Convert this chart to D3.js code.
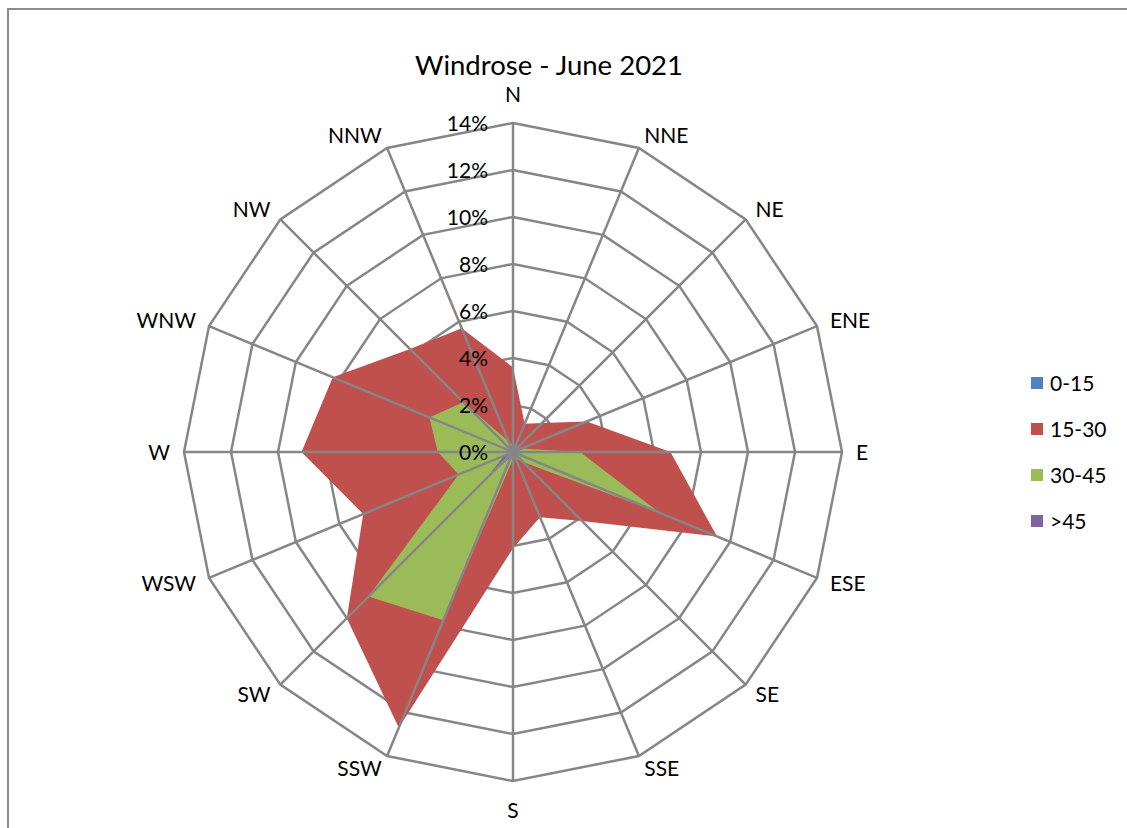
<!DOCTYPE html>
<html>
<head>
<meta charset="utf-8">
<script src="https://cdn.jsdelivr.net/npm/d3@7"></script>
<style>
  body { margin: 0; background: #fff; }
  svg { display: block; }
</style>
</head>
<body>
<svg id="chart" width="1127" height="828"></svg>
<script>
const directions = ['N', 'NNE', 'NE', 'ENE', 'E', 'ESE', 'SE', 'SSE', 'S', 'SSW', 'SW', 'WSW', 'W', 'WNW', 'NW', 'NNW'];
const seriesNames = ['0-15', '15-30', '30-45', '>45'];

// percent of time per direction
const speed0to15 = [0.1, 0.1, 0.1, 0.1, 0.2, 0.2, 0.1, 0.1, 0.1, 0.2, 0.2, 0.1, 0.2, 0.2, 0.1, 0.1];
const speed15to30 = [3.6, 1.3, 1.75, 3.4, 6.7, 9.4, 4.15, 3.0, 4.1, 12.7, 10.0, 6.9, 9.0, 8.3, 6.2, 5.7];
const speed30to45 = [0.3, 0.2, 0.2, 0.4, 2.85, 6.75, 0.6, 0.3, 0.3, 7.75, 8.7, 2.5, 3.2, 3.85, 3.0, 0.5];
const speedOver45 = [0.05, 0.05, 0.05, 0.05, 0.05, 0.05, 0.05, 0.05, 0.1, 0.2, 1.7, 0.4, 0.1, 0.05, 0.05, 0.05];

const tickValues = [0, 2, 4, 6, 8, 10, 12, 14];

const colorScheme = {
  '0-15': '#4F81BD',
  '15-30': '#C0504D',
  '30-45': '#9BBB59',
  '>45': '#8064A2'
};

const series = [speed0to15, speed15to30, speed30to45, speedOver45];

const svg = d3.select('#chart');
const cx = 513, cy = 452, R = 329;
const font = 'Lato, sans-serif';
const gridColor = '#868686';

// chart frame
svg.append('rect')
  .attr('x', 8).attr('y', 9)
  .attr('width', 1140).attr('height', 840)
  .attr('fill', 'none')
  .attr('stroke', '#8c8c8c')
  .attr('stroke-width', 2);

svg.append('text')
  .attr('x', 549).attr('y', 75)
  .attr('text-anchor', 'middle')
  .style('font-family', font)
  .style('font-size', '27.5px')
  .attr('fill', '#000')
  .text('Windrose - June 2021');

const r = d3.scaleLinear().domain([0, 14]).range([0, R]);
const angle = d3.scalePoint().domain(directions).range([0, 2 * Math.PI * 15 / 16]);

const g = svg.append('g').attr('transform', `translate(${cx},${cy})`);

// rings (behind the fills)
const ring = d3.lineRadial()
  .angle(d => angle(d))
  .curve(d3.curveLinearClosed);

g.selectAll('.ring')
  .data(tickValues.slice(1))
  .enter().append('path')
  .attr('class', 'ring')
  .attr('d', v => ring.radius(() => r(v))(directions))
  .attr('fill', 'none')
  .attr('stroke', gridColor)
  .attr('stroke-width', 2.5);

// filled series
const area = d3.lineRadial()
  .angle((d, i) => angle(directions[i]))
  .radius(d => r(d))
  .curve(d3.curveLinearClosed);

g.selectAll('.series')
  .data(series)
  .enter().append('path')
  .attr('class', 'series')
  .attr('d', d => area(d))
  .attr('fill', (d, i) => colorScheme[seriesNames[i]]);

// spokes (on top)
g.selectAll('.spoke')
  .data(directions)
  .enter().append('line')
  .attr('class', 'spoke')
  .attr('x1', 0).attr('y1', 0)
  .attr('x2', d => r(14) * Math.sin(angle(d)))
  .attr('y2', d => -r(14) * Math.cos(angle(d)))
  .attr('stroke', gridColor)
  .attr('stroke-width', 2.5);

// tick labels
g.selectAll('.tick')
  .data(tickValues)
  .enter().append('text')
  .attr('class', 'tick')
  .attr('x', -25)
  .attr('y', d => -r(d))
  .attr('dy', '0.36em')
  .attr('text-anchor', 'end')
  .style('font-family', font)
  .style('font-size', '21px')
  .attr('fill', '#000')
  .text(d => d + '%');

// direction labels: anchor on a circle, then shift sideways by half the width
const labelR = 343;
g.selectAll('.dir')
  .data(directions)
  .enter().append('text')
  .attr('class', 'dir')
  .each(function (d) {
    const a = angle(d);
    const s = Math.sin(a), c = Math.cos(a);
    const t = d3.select(this)
      .style('font-family', font)
      .style('font-size', '21px')
      .attr('fill', '#000')
      .attr('text-anchor', 'middle')
      .attr('dy', '0.36em')
      .text(d);
    const w = this.getComputedTextLength();
    let x = labelR * s, y = -labelR * c;
    if (Math.abs(s) > 1e-6) x += Math.sign(s) * w / 2;
    else y -= Math.sign(c) * 15;
    t.attr('x', x).attr('y', y);
  });

// legend
const legend = svg.append('g').attr('transform', 'translate(1031,383)');
const items = legend.selectAll('g')
  .data(seriesNames)
  .enter().append('g')
  .attr('transform', (d, i) => `translate(0,${i * 46})`);

items.append('rect')
  .attr('x', 0).attr('y', -6)
  .attr('width', 12).attr('height', 12)
  .attr('fill', d => colorScheme[d]);

items.append('text')
  .attr('x', 19).attr('y', 0)
  .attr('dy', '0.36em')
  .style('font-family', font)
  .style('font-size', '21px')
  .attr('fill', '#000')
  .text(d => d);
</script>
</body>
</html>
